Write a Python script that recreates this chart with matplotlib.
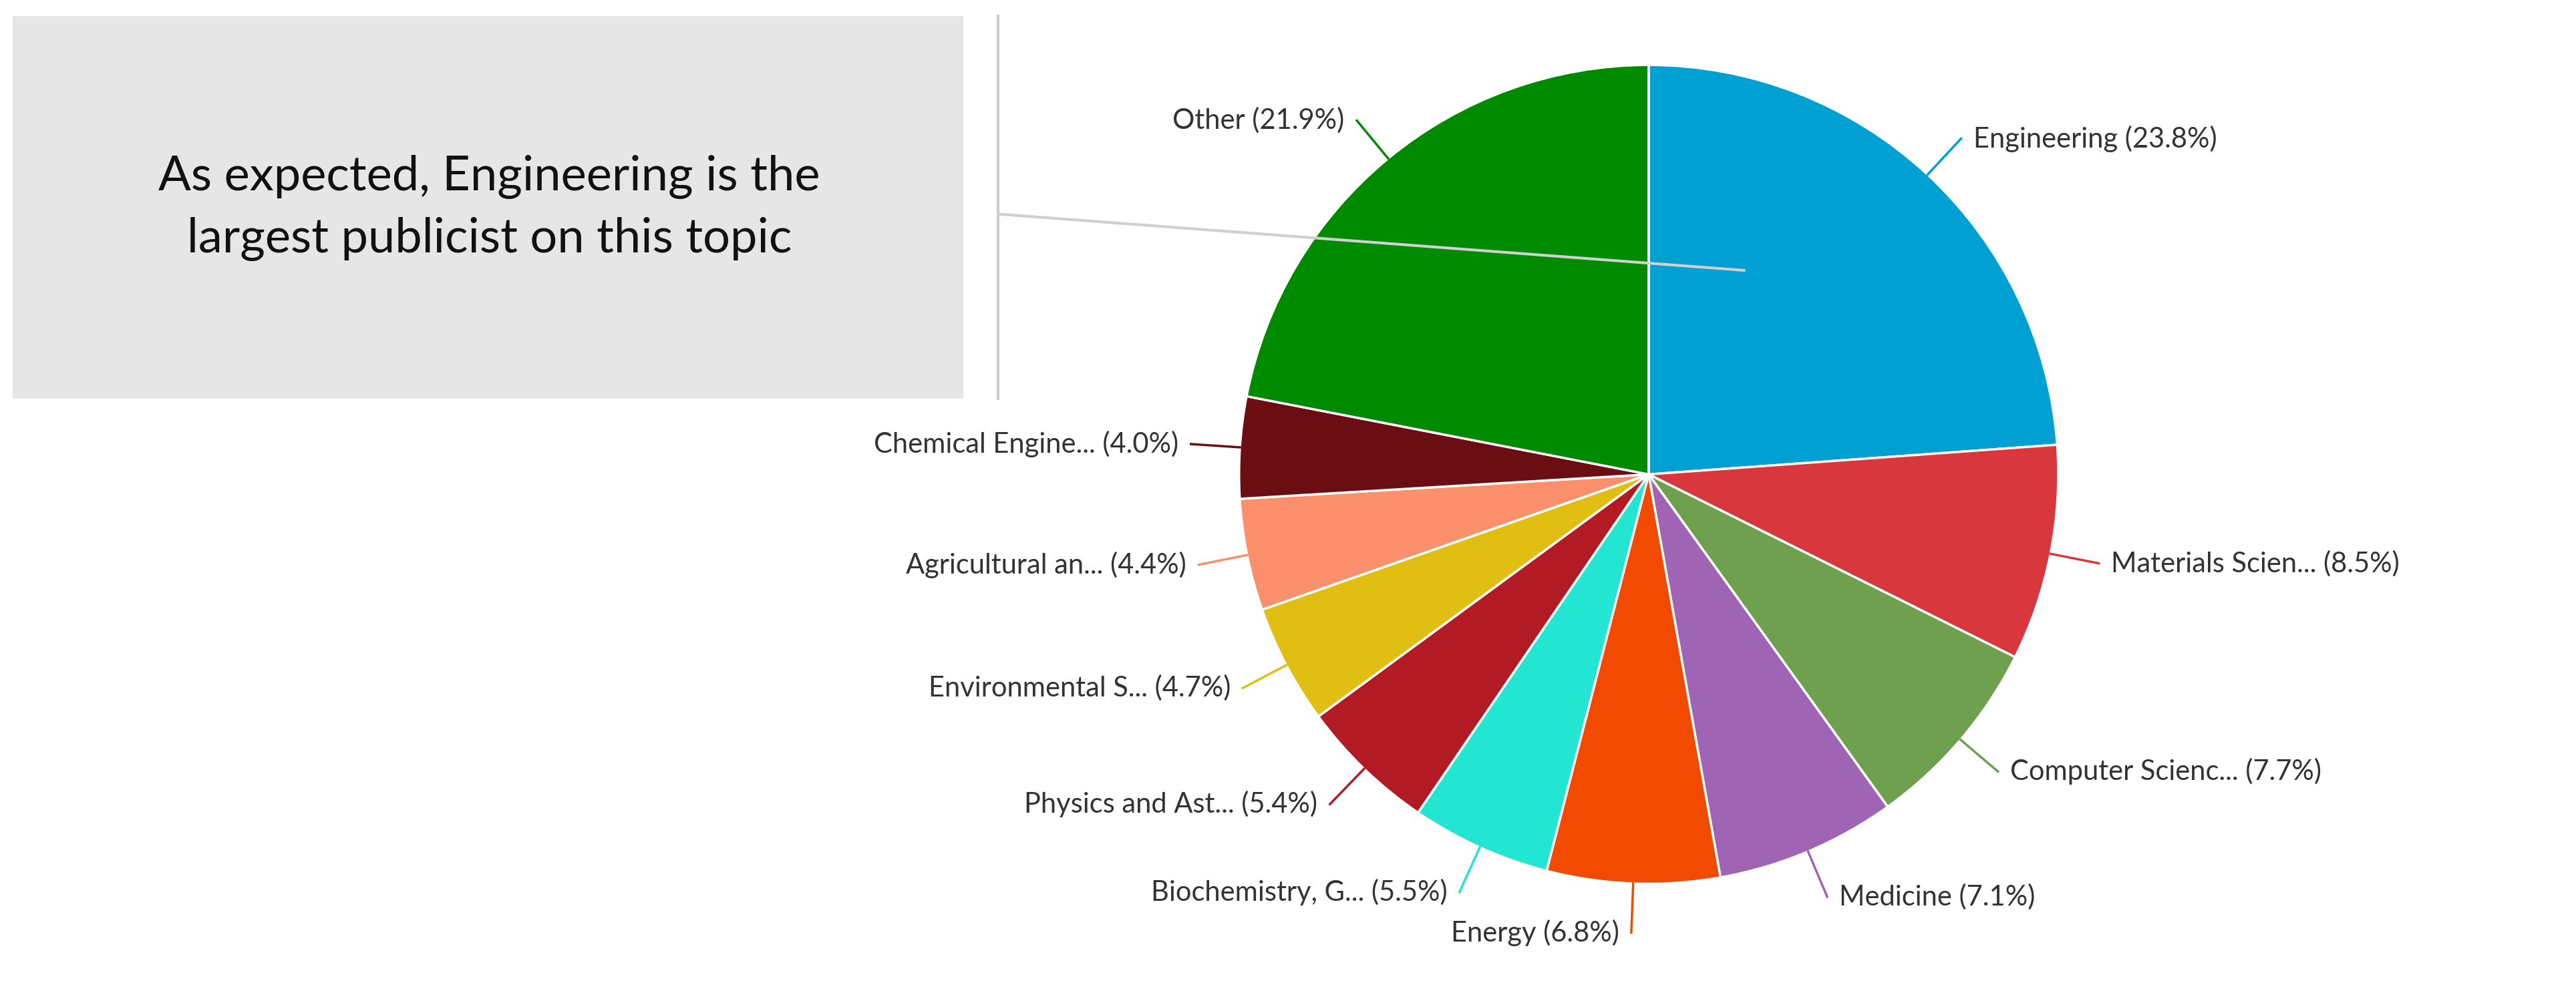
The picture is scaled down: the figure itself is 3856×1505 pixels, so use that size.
import numpy as np
import matplotlib.pyplot as plt
from matplotlib.lines import Line2D
from matplotlib.patches import Rectangle

plt.rcParams['font.family'] = ['Lato', 'DejaVu Sans']

labels = ['Engineering', 'Materials Scien...', 'Computer Scienc...', 'Medicine', 'Energy',
          'Biochemistry, G...', 'Physics and Ast...', 'Environmental S...', 'Agricultural an...',
          'Chemical Engine...', 'Other']
values = [23.8, 8.5, 7.7, 7.1, 6.8, 5.5, 5.4, 4.7, 4.4, 4.0, 21.9]
colors = ['#00a0d2', '#d8383d', '#6fa050', '#a064b4', '#f24a00', '#22e6d2',
          '#b31b24', '#e0bf12', '#fc906c', '#6b0e14', '#008a00']

fig = plt.figure(figsize=(38.56, 15.05), dpi=100, facecolor='white')

# pie
ax = fig.add_axes([0.64 - 0.159, 0.528 - 0.408, 0.318, 0.816])
wedges, _ = ax.pie(values, colors=colors, startangle=90, counterclock=False,
                   wedgeprops=dict(edgecolor='white', linewidth=2.5))
ax.set_xlim(-1, 1)
ax.set_ylim(-1, 1)
ax.set_aspect('equal')
ax.axis('off')

for w, lab, v, c in zip(wedges, labels, values, colors):
    ang = np.deg2rad((w.theta1 + w.theta2) / 2)
    x, y = np.cos(ang), np.sin(ang)
    x1, y1 = 1.12 * x, 1.12 * y
    ax.plot([x, x1], [y, y1], color=c, lw=2.5, clip_on=False)
    ha = 'left' if x >= 0 else 'right'
    ax.text(x1 + (0.03 if x >= 0 else -0.03), y1, f'{lab} ({v}%)', ha=ha, va='center',
            fontsize=30, color='#333333')

# annotation box
fig.patches.append(Rectangle((0.005, 0.603), 0.369, 0.381, transform=fig.transFigure,
                             facecolor='#e6e6e6', edgecolor='none'))
fig.text(0.19, 0.793, 'As expected, Engineering is the\nlargest publicist on this topic',
         ha='center', va='center', fontsize=52, color='#111111', linespacing=1.5)
fig.lines.append(Line2D([0.3875, 0.3875], [0.603, 0.984], transform=fig.transFigure,
                        color='#cccccc', lw=3))
fig.lines.append(Line2D([0.3875, 0.677], [0.787, 0.731], transform=fig.transFigure,
                        color='#d0d0d0', lw=3, zorder=10))

fig.savefig('out.png', dpi=100, facecolor='white')
